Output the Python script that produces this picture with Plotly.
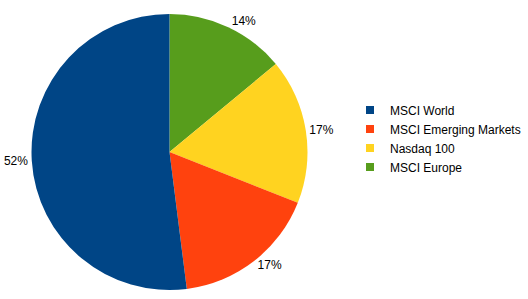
import plotly.graph_objects as go

labels = ["MSCI World", "MSCI Emerging Markets", "Nasdaq 100", "MSCI Europe"]
values = [52, 17, 17, 14]
colors = ["#004586", "#ff420e", "#ffd320", "#579d1c"]

W, H = 528, 299
cx, cy, r = 169.5, 152, 138

fig = go.Figure()
# slices drawn clockwise from 12 o'clock in reverse legend order
fig.add_trace(go.Pie(
    labels=labels[::-1], values=values[::-1], sort=False, direction="clockwise", rotation=0,
    marker=dict(colors=colors[::-1], line=dict(width=0)),
    textinfo="percent", textposition="outside",
    texttemplate="%{percent:.0%}",
    textfont=dict(family="Liberation Sans", size=12, color="#000000"),
    showlegend=False, hoverinfo="label+percent",
    domain=dict(x=[(cx - r) / W, (cx + r) / W], y=[1 - (cy + r) / H, 1 - (cy - r) / H]),
))
for lab, col in zip(labels, colors):
    fig.add_trace(go.Scatter(
        x=[None], y=[None], mode="markers", name=lab,
        marker=dict(symbol="square", size=8, color=col),
        showlegend=True,
    ))

fig.update_layout(
    width=W, height=H,
    margin=dict(l=0, r=0, t=0, b=0),
    paper_bgcolor="white", plot_bgcolor="white",
    xaxis=dict(visible=False), yaxis=dict(visible=False),
    legend=dict(x=350 / W, y=1 - 138.5 / H, xanchor="left", yanchor="middle",
                font=dict(family="Liberation Sans", size=12, color="#000000"),
                bgcolor="rgba(0,0,0,0)", tracegroupgap=0),
    font=dict(family="Liberation Sans", size=12),
)
fig.write_html("out.html")
